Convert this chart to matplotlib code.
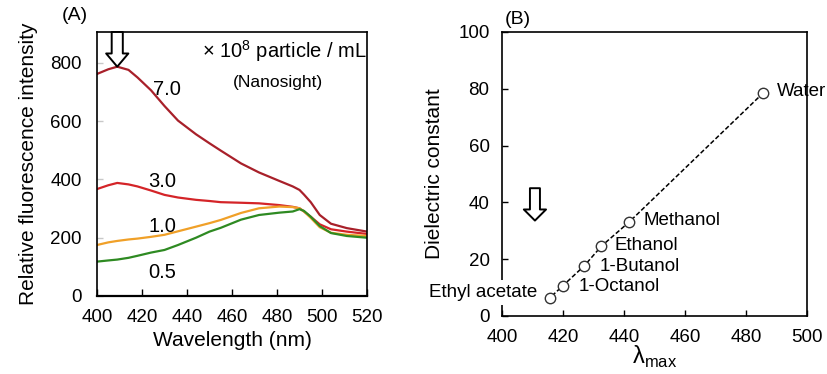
import matplotlib
matplotlib.use("Agg")
import matplotlib.pyplot as plt

plt.rcParams['font.family'] = ['Liberation Sans', 'DejaVu Sans']

# Panel A data
wl = [400, 405, 409, 414, 418, 424, 430, 436, 444, 450, 455, 464, 472, 481, 487, 490, 492, 495, 499, 504, 511, 520]
i70 = [762, 778, 787, 776, 750, 706, 652, 602, 555, 524, 499, 455, 424, 395, 376, 364, 348, 322, 278, 248, 233, 221]
i30 = [367, 380, 388, 383, 376, 362, 347, 338, 330, 326, 322, 320, 318, 312, 306, 301, 290, 272, 246, 229, 221, 213]
i10 = [175, 184, 189, 194, 197, 203, 210, 222, 238, 250, 261, 285, 301, 307, 305, 301, 290, 268, 236, 217, 210, 206]
i05 = [118, 122, 125, 131, 138, 149, 158, 175, 200, 221, 234, 262, 278, 286, 290, 298, 292, 272, 240, 216, 206, 200]
conc_labels = ["7.0", "3.0", "1.0", "0.5"]
conc_pos = [(431, 708), (429, 392), (429, 237), (429, 79)]

# Panel B data
solvents = ["Water", "Methanol", "Ethanol", "1-Butanol", "1-Octanol", "Ethyl acetate"]
lam_max = [485.7, 441.7, 432.6, 427.0, 419.9, 415.8]
dielectric = [78.6, 33.1, 24.6, 17.7, 10.6, 6.5]

fig = plt.figure(figsize=(8.27, 3.74), dpi=100)

# ---------------- Panel A
axA = fig.add_axes([97/827, 1-296/374, 270/827, 264/374])
colors = ['#A8202A', '#D42428', '#F0A028', '#2E8A22']
for y, c in zip([i70, i30, i10, i05], colors):
    axA.plot(wl, y, color=c, lw=1.6)
axA.set_xlim(400, 520)
axA.set_ylim(0, 906)
axA.set_xticks(range(400, 521, 20))
axA.set_yticks(range(0, 801, 200))
axA.tick_params(axis='x', direction='in', length=5, width=1, labelsize=13.5, pad=9, colors='black')
axA.tick_params(axis='y', direction='in', length=4, width=1, labelsize=13.5, pad=11, color='#c8c8c8')
for s in axA.spines.values():
    s.set_linewidth(1.2)
axA.spines['bottom'].set_linewidth(1.6)
axA.set_xlabel("Wavelength (nm)", fontsize=15, labelpad=4)
axA.set_ylabel("Relative fluorescence intensity", fontsize=15, labelpad=9)
for lab, (x, y) in zip(conc_labels, conc_pos):
    axA.text(x, y, lab, fontsize=14.5, ha='center', va='center')
axA.text(520, 842, "× 10$^{\\mathregular{8}}$ particle / mL", fontsize=14.5, ha='right', va='center')
axA.text(480.5, 732, "(Nanosight)", fontsize=12.5, ha='center', va='center')
axA.annotate("", xy=(409, 787), xytext=(409, 906),
             arrowprops=dict(arrowstyle="simple,head_width=1.6,head_length=0.95,tail_width=0.8",
                             fc='white', ec='black', lw=1.4, shrinkA=0, shrinkB=0, mutation_scale=10),
             annotation_clip=False)
fig.text(75/827, 1-15/374, "(A)", fontsize=14, ha='center', va='center')

# ---------------- Panel B
axB = fig.add_axes([502/827, 1-316/374, 305/827, 284/374])
axB.plot(lam_max, dielectric, ls=(0, (3, 1.5)), color='black', lw=1.1, zorder=2)
axB.plot(lam_max, dielectric, ls='none', marker='o', ms=7.5, mfc='white', mec='#333333', mew=1, zorder=3)
axB.set_xlim(400, 500)
axB.set_ylim(0, 100)
axB.set_xticks(range(400, 501, 20))
axB.set_yticks(range(0, 101, 20))
axB.tick_params(axis='x', direction='in', length=4, width=1, labelsize=13.5, pad=9)
axB.tick_params(axis='y', direction='in', length=4, width=1, labelsize=13.5, pad=9)
for s in axB.spines.values():
    s.set_linewidth(1.2)
axB.set_xlabel("λ$_{\\mathregular{max}}$", fontsize=17, labelpad=-1)
axB.set_ylabel("Dielectric constant", fontsize=15, labelpad=10)
label_pos = [(490, 79, 'left'), (446.3, 33.5, 'left'), (437, 24.8, 'left'), (432.1, 17.6, 'left'),
             (425, 10.5, 'left'), (411.4, 8.3, 'right')]
for name, (x, y, ha) in zip(solvents, label_pos):
    if name == "Ethyl acetate":
        axB.text(x, y, name, fontsize=13.5, ha=ha, va='center', zorder=5, clip_on=False,
                 bbox=dict(fc='white', ec='none', pad=3))
    else:
        axB.text(x, y, name, fontsize=13.5, ha=ha, va='center', clip_on=False)
axB.annotate("", xy=(410.8, 33.6), xytext=(410.8, 45),
             arrowprops=dict(arrowstyle="simple,head_width=1.6,head_length=0.8,tail_width=0.72",
                             fc='white', ec='black', lw=1.4, shrinkA=0, shrinkB=0, mutation_scale=10))
fig.text(518/827, 1-20/374, "(B)", fontsize=14, ha='center', va='center')

fig.savefig("out.png", dpi=100)
